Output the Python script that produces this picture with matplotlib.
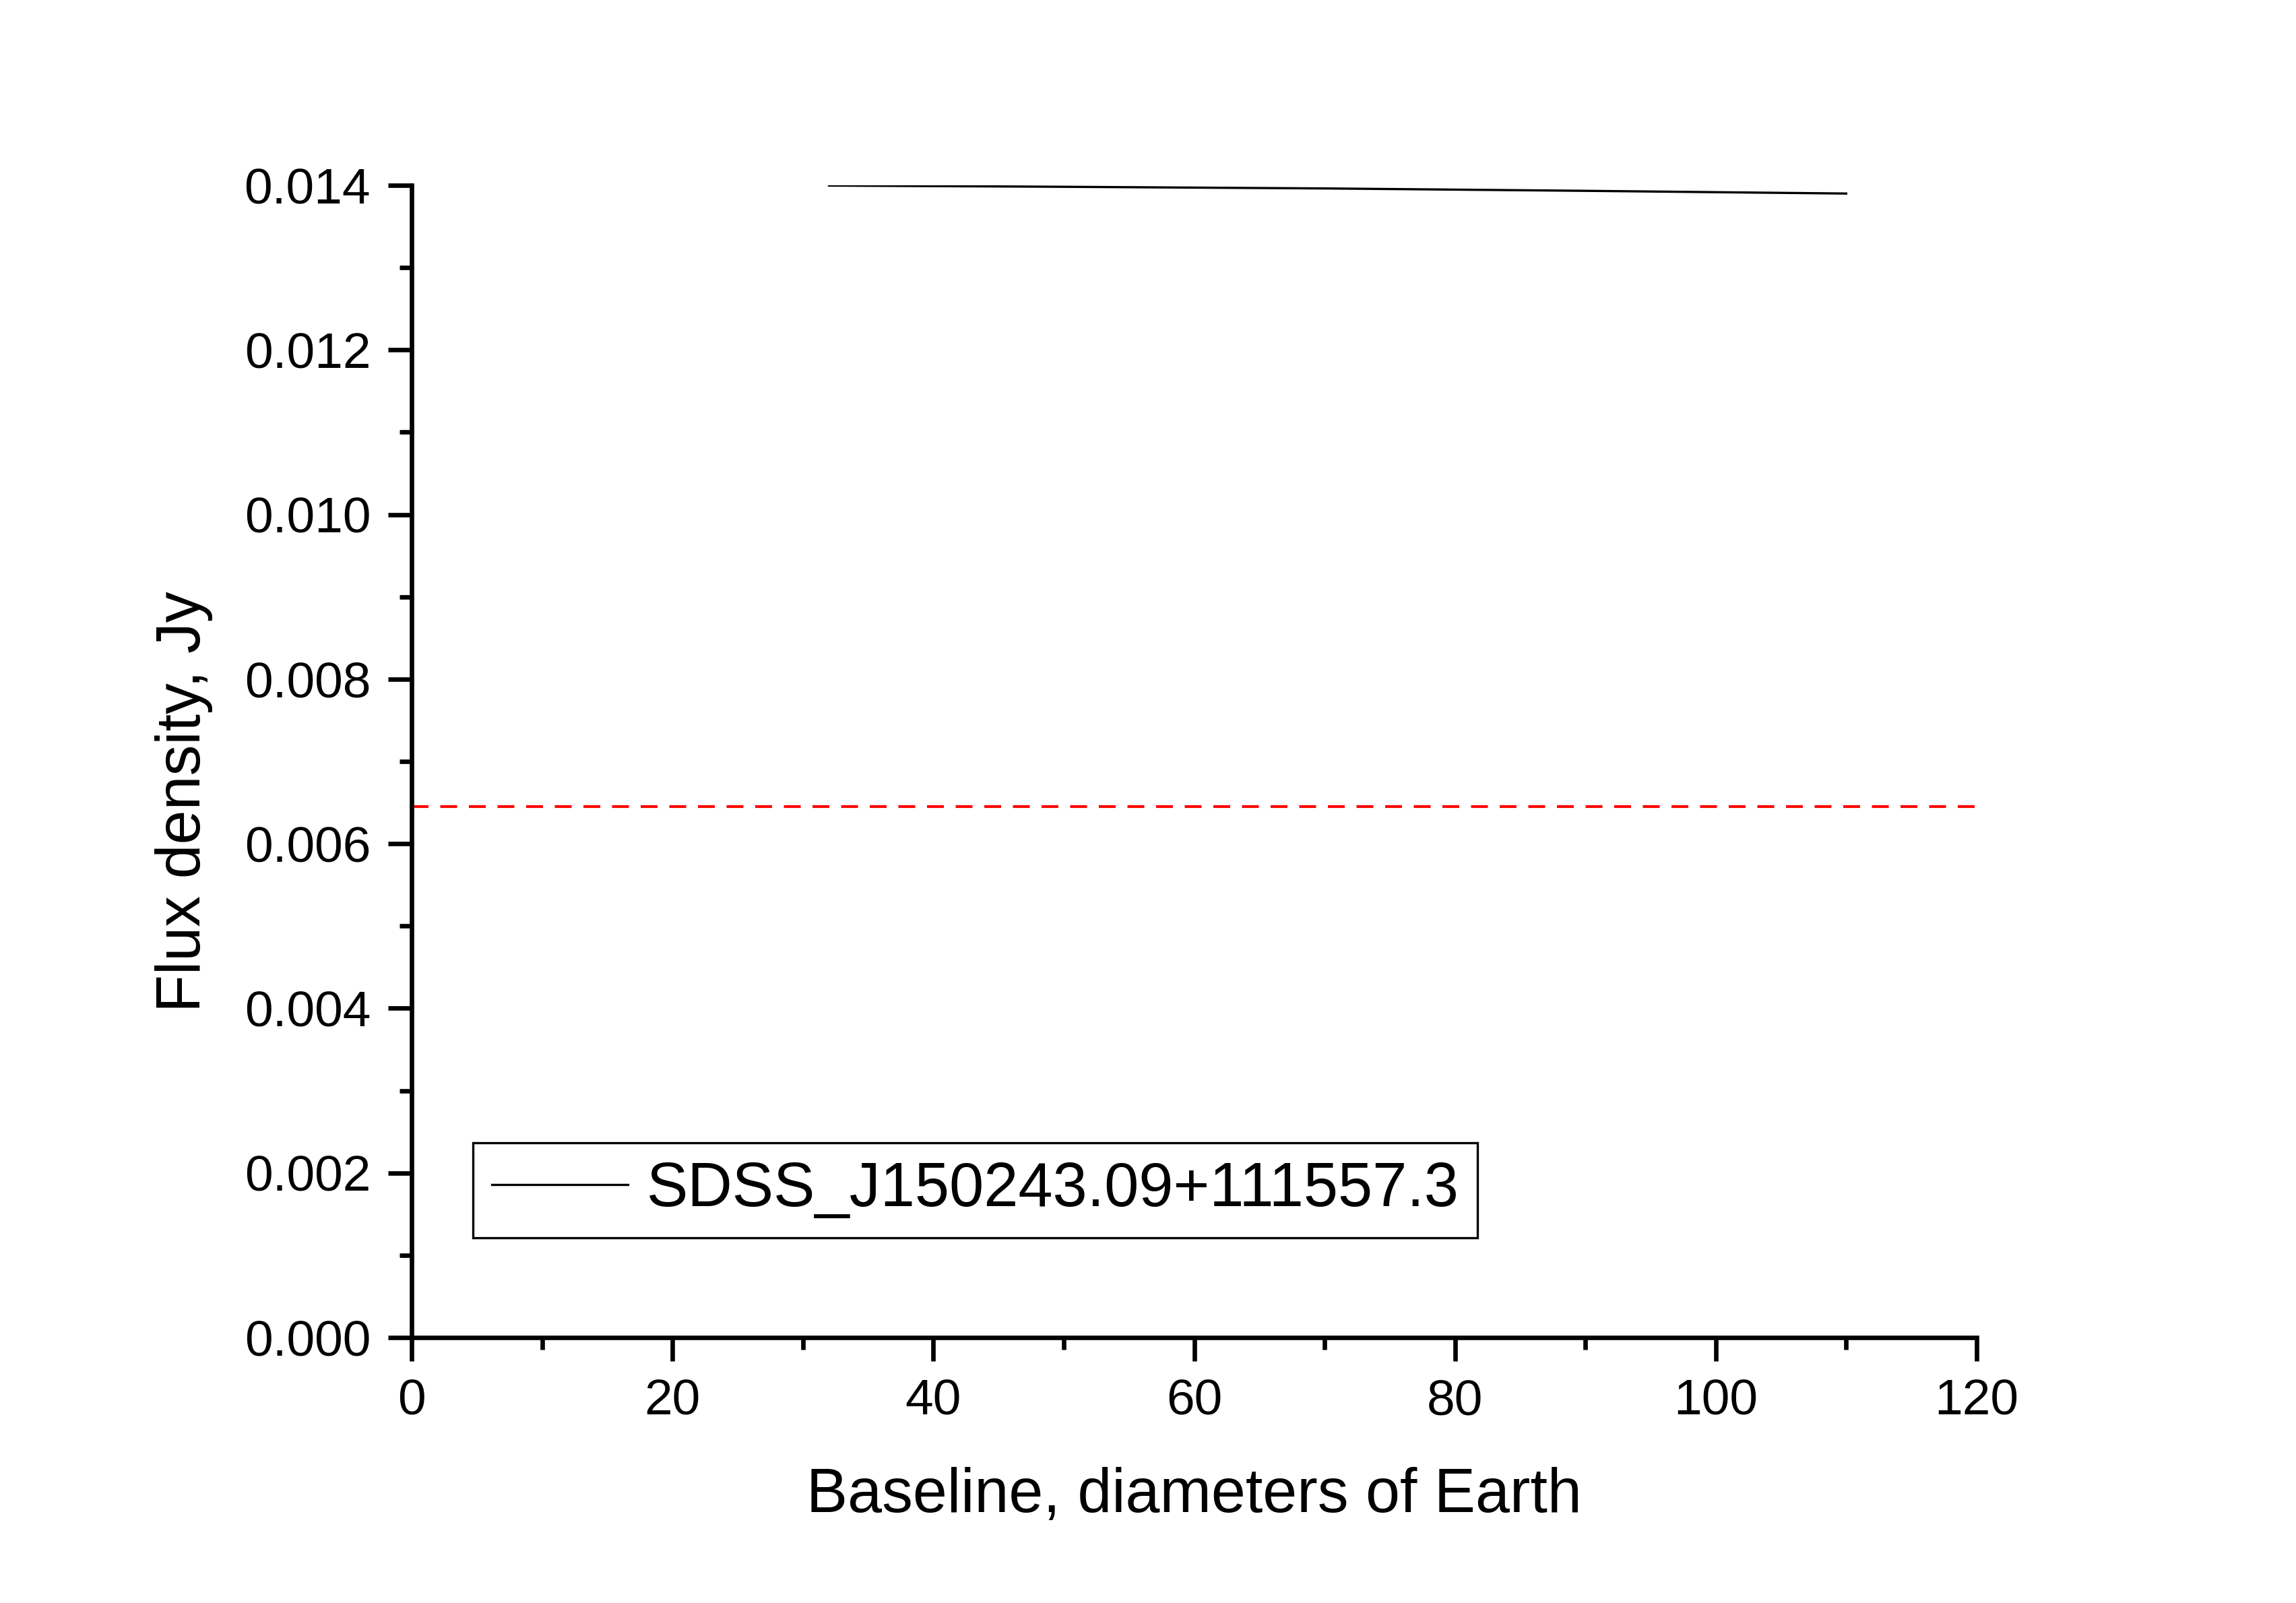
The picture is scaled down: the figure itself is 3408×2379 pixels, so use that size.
import matplotlib
matplotlib.use("Agg")
import matplotlib.pyplot as plt
from matplotlib.ticker import MultipleLocator, FormatStrFormatter

plt.rcParams['font.family'] = ['Liberation Sans', 'DejaVu Sans']

# Data
baseline = [32, 50, 70, 90, 110]
flux = [0.013997, 0.013982, 0.013962, 0.013933, 0.013900]
series_label = "SDSS_J150243.09+111557.3"
threshold_x = [0, 120]
threshold_y = [0.00645, 0.00645]

fig = plt.figure(figsize=(3408/300, 2379/300), dpi=300)
ax = fig.add_axes([0.1793, 0.1656, 0.8609-0.1793, 0.8844-0.1656])

ax.plot(baseline, flux, color='black', lw=0.8, label=series_label)
ax.plot(threshold_x, threshold_y, color='#ff0000', lw=1.0, linestyle=(0, (6, 4.2)))

ax.set_xlim(0, 120)
ax.set_ylim(0, 0.014)
ax.xaxis.set_major_locator(MultipleLocator(20))
ax.xaxis.set_minor_locator(MultipleLocator(10))
ax.yaxis.set_major_locator(MultipleLocator(0.002))
ax.yaxis.set_minor_locator(MultipleLocator(0.001))
ax.yaxis.set_major_formatter(FormatStrFormatter('%.3f'))

for s in ['top', 'right']:
    ax.spines[s].set_visible(False)
for s in ['left', 'bottom']:
    ax.spines[s].set_linewidth(1.6)

ax.tick_params(which='major', direction='out', length=8.4, width=1.6, labelsize=18, pad=6.2)
ax.tick_params(which='minor', direction='out', length=4.4, width=1.6)

ax.set_xlabel('Baseline, diameters of Earth', fontsize=22)
ax.set_ylabel('Flux density, Jy', fontsize=22)
ax.xaxis.set_label_coords(0.5, -0.112)
ax.yaxis.set_label_coords(-0.127, 0.465)

leg = fig.legend(loc='lower left', bbox_to_anchor=(702/3408, 1-1837/2379),
                 bbox_transform=fig.transFigure, fontsize=22.1, frameon=True,
                 fancybox=False, shadow=False, framealpha=1, edgecolor='black',
                 borderaxespad=0, handlelength=2.2, handletextpad=0.3, borderpad=0.3)
leg.get_frame().set_linewidth(0.8)

fig.savefig('out.png', dpi=300, facecolor='white')
